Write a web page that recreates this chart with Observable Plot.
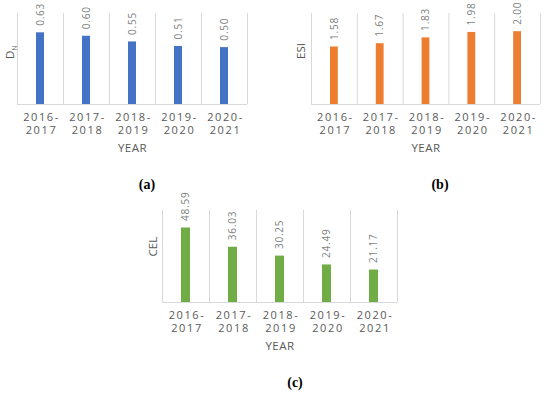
<!DOCTYPE html>
<html>
<head>
<meta charset="utf-8">
<script src="https://cdn.jsdelivr.net/npm/d3@7"></script>
<script src="https://cdn.jsdelivr.net/npm/@observablehq/plot@0.6"></script>
<style>
  html, body { margin: 0; padding: 0; background: #fff; }
  #wrap { position: relative; width: 550px; height: 394px; background: #fff; overflow: hidden; }
  .panel { position: absolute; }
  .cap { position: absolute; font-family: "Liberation Serif", serif; font-weight: bold; font-size: 14px; color: #000; transform: translate(-50%, -50%); }
  .ticklab text { letter-spacing: 1.6px; }
  .vallab text { letter-spacing: 0.8px; }
  .xtitle text { letter-spacing: 0.5px; }
</style>
</head>
<body>
<div id="wrap"></div>
<script>
const years = ["2016-\n2017", "2017-\n2018", "2018-\n2019", "2019-\n2020", "2020-\n2021"];
const dnValues = [0.63, 0.60, 0.55, 0.51, 0.50];
const esiValues = [1.58, 1.67, 1.83, 1.98, 2.00];
const celValues = [48.59, 36.03, 30.25, 24.49, 21.17];
const panelLabels = ["D", "ESI", "CEL"];
const captions = ["(a)", "(b)", "(c)"];
const xTitle = "YEAR";

const grid = "#d9d9d9";
const textGray = "#595959";
const valueGray = "#7f7f7f";
const font = "'Open Sans', sans-serif";

function panel({values, yMax, color, ylabel, sub, left, top, width, height, ml, mr, mt, mb, ylabelDx}) {
  const data = values.map((v, i) => ({i, v, year: years[i]}));
  const chart = Plot.plot({
    width, height,
    marginLeft: ml, marginRight: mr, marginTop: mt, marginBottom: mb,
    x: {domain: [0, years.length], axis: null},
    y: {domain: [0, yMax], axis: null},
    style: {fontFamily: font, background: "transparent", overflow: "visible"},
    marks: [
      Plot.ruleX(d3.range(years.length + 1), {y1: 0, y2: yMax, stroke: grid, strokeWidth: 1}),
      Plot.ruleY([0], {stroke: grid, strokeWidth: 1.2}),
      Plot.rectY(data, {x1: "i", x2: d => d.i + 1, y: "v", fill: color, insetLeft: 19, insetRight: 19}),
      Plot.text(data, {x: d => d.i + 0.5, y: "v", text: d => d.v.toFixed(2), rotate: -90, textAnchor: "start", lineAnchor: "middle", dy: -7, fill: valueGray, fontSize: 10, className: "vallab"}),
      Plot.text(data, {x: d => d.i + 0.5, y: 0, text: "year", lineAnchor: "top", dy: 7, dx: 1, lineHeight: 1.2, fill: textGray, fontSize: 11, className: "ticklab"}),
      Plot.text([xTitle], {frameAnchor: "bottom", dy: 44, lineAnchor: "middle", fill: textGray, fontSize: 11.5, className: "xtitle"}),
      Plot.text([ylabel], {frameAnchor: "left", dx: ylabelDx, rotate: -90, lineAnchor: "middle", fill: textGray, fontSize: 11.5, className: "ylab"})
    ]
  });
  if (sub) {
    const t = chart.querySelector(".ylab text");
    if (t) {
      const s = document.createElementNS("http://www.w3.org/2000/svg", "tspan");
      s.setAttribute("font-size", "7");
      s.setAttribute("dy", "3");
      s.textContent = sub;
      t.appendChild(s);
    }
  }
  const div = document.createElement("div");
  div.className = "panel";
  div.style.left = left + "px";
  div.style.top = top + "px";
  div.appendChild(chart);
  document.getElementById("wrap").appendChild(div);
}

panel({values: dnValues, yMax: 0.8, color: "#4472C4", ylabel: panelLabels[0], sub: "N", left: 0, top: 0, width: 275, height: 160, ml: 17, mr: 28, mt: 13, mb: 56, ylabelDx: -7});
panel({values: esiValues, yMax: 2.5, color: "#ED7D31", ylabel: panelLabels[1], left: 275, top: 0, width: 275, height: 160, ml: 36, mr: 10, mt: 13, mb: 56, ylabelDx: -10});
panel({values: celValues, yMax: 60, color: "#70AD47", ylabel: panelLabels[2], left: 130, top: 197, width: 290, height: 160, ml: 32, mr: 23, mt: 13, mb: 55, ylabelDx: -9});

const capPos = [[147, 185], [440, 185], [295, 383]];
captions.forEach((c, i) => {
  const d = document.createElement("div");
  d.className = "cap";
  d.style.left = capPos[i][0] + "px";
  d.style.top = capPos[i][1] + "px";
  d.textContent = c;
  document.getElementById("wrap").appendChild(d);
});
</script>
</body>
</html>
